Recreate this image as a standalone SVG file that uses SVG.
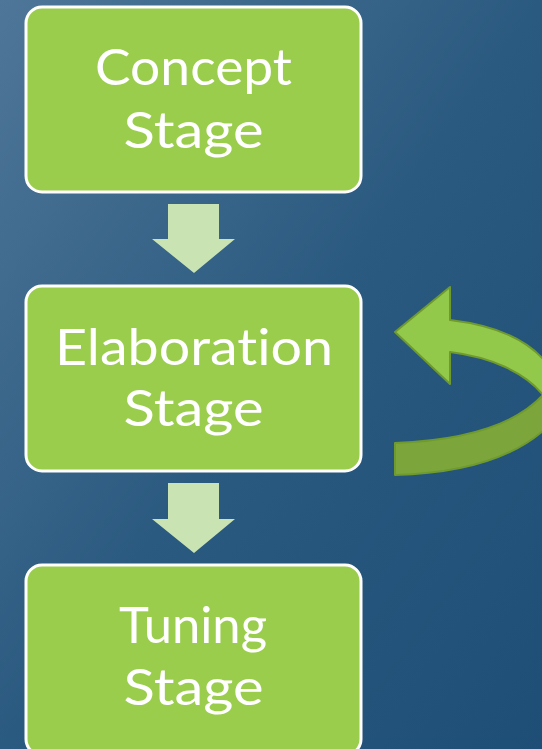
<svg xmlns="http://www.w3.org/2000/svg" width="542" height="749" viewBox="0 0 542 749">
  <defs>
    <linearGradient id="bg" x1="0" y1="0" x2="1" y2="1">
      <stop offset="0" stop-color="#4e7698"/>
      <stop offset="0.5" stop-color="#2b5a80"/>
      <stop offset="1" stop-color="#1e4d76"/>
    </linearGradient>
    <style>
      .stage { fill: #9bcd4d; stroke: #ffffff; stroke-width: 3; }
      .label { fill: #ffffff; font-family: Lato, "Open Sans", "Liberation Sans", sans-serif; font-size: 51px; text-anchor: middle; font-variant-ligatures: none; font-feature-settings: "liga" 0, "clig" 0; }
      .down { fill: #c9e3b3; }
      .loop-front { fill: #93c94a; stroke: #6f9a2e; stroke-width: 2; stroke-linejoin: round; }
      .loop-back { fill: #7ca63c; stroke: #6f9a2e; stroke-width: 2; stroke-linejoin: round; }
    </style>
  </defs>

  <rect width="542" height="749" fill="url(#bg)"/>

  <g id="concept-stage">
    <rect class="stage" x="26" y="7" width="335" height="185" rx="16"/>
    <text class="label" x="193.5" y="85" textLength="197" lengthAdjust="spacingAndGlyphs">Concept</text>
    <text class="label" x="193.5" y="148" textLength="140" lengthAdjust="spacingAndGlyphs">Stage</text>
  </g>

  <g id="elaboration-stage">
    <rect class="stage" x="26" y="286" width="335" height="185" rx="16"/>
    <text class="label" x="194" y="365" textLength="278" lengthAdjust="spacingAndGlyphs">Elaboration</text>
    <text class="label" x="193.5" y="426" textLength="140" lengthAdjust="spacingAndGlyphs">Stage</text>
  </g>

  <g id="tuning-stage">
    <rect class="stage" x="26" y="565" width="335" height="190" rx="16"/>
    <text class="label" x="193" y="643" textLength="148" lengthAdjust="spacingAndGlyphs">Tuning</text>
    <text class="label" x="193.5" y="705" textLength="140" lengthAdjust="spacingAndGlyphs">Stage</text>
  </g>

  <g id="connectors">
    <polygon class="down" points="168,204 219,204 219,239 235,239 194,273 152,239 168,239"/>
    <polygon class="down" points="168,483 219,483 219,519 235,519 194,553 152,519 168,519"/>
    <!-- loop-back arrow on the elaboration stage -->
    <path class="loop-back" d="M543,395 C518,422 470,440 395,443 L395,475 C478,473 528,450 556,418 L556,395 Z"/>
    <path class="loop-front" d="M395,332 L450,287 L450,320 C492,325 530,338 550,368 L558,395 L543,395 C525,372 490,357 450,352 L450,384 Z"/>
  </g>
</svg>
